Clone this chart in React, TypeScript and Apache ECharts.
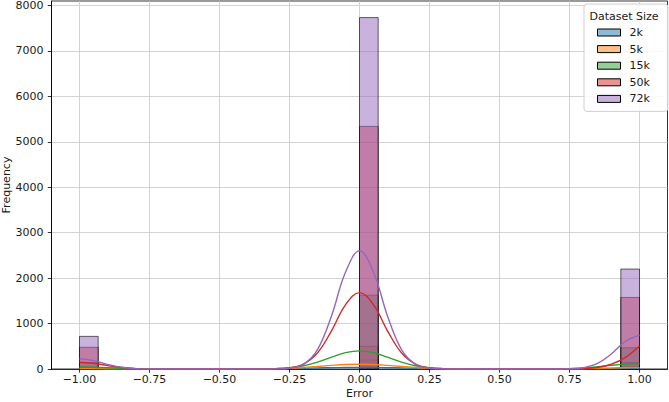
import React, { useEffect, useRef } from 'react';
import * as echarts from 'echarts';

const seriesNames = ['2k', '5k', '15k', '50k', '72k'];
const colors = ['#1f77b4', '#ff7f0e', '#2ca02c', '#d62728', '#9467bd'];

// histogram bins (start of bin) and bin width
const binStarts = [-1, 0, 0.9333];
const binWidth = 0.0667;

const counts2k = [18, 200, 58];
const counts5k = [45, 500, 145];
const counts15k = [140, 1625, 467];
const counts50k = [478, 5340, 1575];
const counts72k = [718, 7735, 2200];

// KDE curves
const kdeX = [-1, -0.95, -0.9, -0.85, -0.8, -0.75, -0.7, -0.65, -0.6, -0.55, -0.5, -0.45, -0.4, -0.35, -0.3, -0.25, -0.2, -0.15, -0.1, -0.05, 0, 0.05, 0.1, 0.15, 0.2, 0.25, 0.3, 0.35, 0.4, 0.45, 0.5, 0.55, 0.6, 0.65, 0.7, 0.75, 0.8, 0.85, 0.9, 0.95, 1];
const kde2k = [3, 3, 2.5, 2, 1.4, 0.9, 0.5, 0.3, 0.1, 0.1, 0.3, 0.7, 1.6, 3.3, 6, 10, 16, 23, 29, 33, 35, 33, 29, 23, 16, 10, 6, 3.3, 1.6, 0.9, 0.4, 0.3, 0.5, 0.9, 1.8, 3, 4.6, 6.5, 8.2, 9.5, 10];
const kde5k = [9, 8, 7, 5, 3, 2, 1, 0, 0, 0, 0, 0, 1, 3, 9, 18, 34, 56, 79, 98, 105, 98, 79, 56, 34, 18, 9, 3, 1, 0, 0, 0, 0, 1, 3, 5, 10, 17, 23, 29, 31];
const kde15k = [45, 40, 29, 17, 8, 3, 1, 0, 0, 0, 0, 0, 0, 2, 8, 27, 72, 152, 260, 359, 400, 359, 260, 152, 72, 27, 8, 2, 0, 0, 0, 0, 0, 1, 3, 9, 22, 48, 81, 108, 120];
const kde50k = [150, 126, 75, 32, 9, 2, 0, 0, 0, 0, 0, 0, 0, 0, 3, 22, 106, 354, 841, 1413, 1680, 1413, 841, 354, 106, 22, 3, 0, 0, 0, 0, 0, 0, 0, 0, 1, 7, 32, 107, 255, 505];
const kde72k = [225, 185, 103, 38, 9, 2, 0, 0, 0, 0, 0, 0, 0, 0, 2, 17, 105, 428, 1167, 2128, 2600, 2128, 1167, 428, 105, 17, 2, 0, 0, 0, 0, 0, 0, 0, 0, 5, 30, 123, 334, 610, 742];

const xTicks = [-1, -0.75, -0.5, -0.25, 0, 0.25, 0.5, 0.75, 1];
const yTicks = [0, 1000, 2000, 3000, 4000, 5000, 6000, 7000, 8000];

const allCounts = [counts2k, counts5k, counts15k, counts50k, counts72k];
const allKde = [kde2k, kde5k, kde15k, kde50k, kde72k];

const FONT = 'DejaVu Sans';
const FS = 11;

function hexToRgba(hex: string, a: number) {
  const r = parseInt(hex.slice(1, 3), 16);
  const g = parseInt(hex.slice(3, 5), 16);
  const b = parseInt(hex.slice(5, 7), 16);
  return `rgba(${r},${g},${b},${a})`;
}

export default function App() {
  const ref = useRef<HTMLDivElement>(null);
  useEffect(() => {
    if (!ref.current) return;
    const chart = echarts.init(ref.current, undefined, { renderer: 'svg' });

    const order = [0, 1, 2, 3, 4];
    const barSeries = order.map((i) => {
      const fill = hexToRgba(colors[i], 0.5);
      return {
        type: 'custom',
        name: seriesNames[i],
        z: 2,
        encode: { x: 0, y: 1 },
        itemStyle: { color: fill, borderColor: '#000', borderWidth: 1 },
        data: binStarts.map((b, k) => [b, allCounts[i][k]]),
        renderItem: (params: any, api: any) => {
          const x0 = api.value(0) as number;
          const c = api.value(1) as number;
          const a = api.coord([x0, c]);
          const bb = api.coord([x0 + binWidth, 0]);
          return {
            type: 'rect',
            shape: { x: a[0], y: a[1], width: bb[0] - a[0], height: bb[1] - a[1] },
            style: { fill, stroke: 'rgba(0,0,0,0.75)', lineWidth: 0.8 },
          };
        },
      };
    });

    const lineSeries = order.map((i) => ({
      type: 'line',
      name: seriesNames[i] + ' kde',
      z: 3,
      showSymbol: false,
      symbol: 'none',
      smooth: 0.4,
      lineStyle: { color: colors[i], width: 1.4 },
      itemStyle: { color: colors[i] },
      data: kdeX.map((x, k) => [x, allKde[i][k]]),
    }));

    chart.setOption({
      animation: false,
      textStyle: { fontFamily: FONT },
      grid: {
        left: 51.5,
        right: 1.5,
        top: 1,
        bottom: 33,
        containLabel: false,
        outerBoundsMode: 'none',
        show: true,
        borderColor: '#000',
        borderWidth: 0.8,
        backgroundColor: 'transparent',
      },
      legend: {
        orient: 'vertical',
        left: 584,
        top: 4,
        padding: [22, 18, 6, 13],
        itemWidth: 23,
        itemHeight: 7,
        itemGap: 3.6,
        icon: 'rect',
        selectedMode: false,
        backgroundColor: 'rgba(255,255,255,0.85)',
        borderColor: '#d0d0d0',
        borderWidth: 1,
        borderRadius: 3,
        textStyle: { fontFamily: FONT, fontSize: FS, lineHeight: 13, color: '#1a1a1a', padding: [0, 0, 0, 4] },
        data: seriesNames.map((n, i) => ({
          name: n,
          itemStyle: { color: hexToRgba(colors[i], 0.5), borderColor: '#000', borderWidth: 1 },
        })),
        z: 10,
      },
      graphic: [
        {
          type: 'text',
          x: 624,
          y: 16,
          z: 100,
          style: {
            text: 'Dataset Size',
            fontFamily: FONT,
            fontSize: FS,
            fill: '#1a1a1a',
            align: 'center',
            verticalAlign: 'middle',
          },
        },
      ],
      xAxis: {
        type: 'value',
        min: -1.1,
        max: 1.1,
        name: 'Error',
        nameLocation: 'middle',
        nameGap: 19,
        nameMoveOverlap: false,
        nameTextStyle: { fontFamily: FONT, fontSize: FS, color: '#1a1a1a' },
        axisLine: { show: true, onZero: false, lineStyle: { color: '#000', width: 0.8 } },
        axisTick: { show: true, length: 3.7, customValues: xTicks, lineStyle: { color: '#000', width: 0.8 } },
        axisLabel: {
          customValues: xTicks,
          margin: 5,
          fontFamily: FONT,
          fontSize: FS,
          color: '#1a1a1a',
          formatter: (v: number) => v.toFixed(2).replace('-', '\u2212'),
        },
        splitLine: { show: true, lineStyle: { color: '#c8c8c8', width: 0.8 } },
      },
      yAxis: {
        type: 'value',
        min: 0,
        max: 8100,
        interval: 1000,
        name: 'Frequency',
        nameLocation: 'middle',
        nameGap: 40,
        nameMoveOverlap: false,
        nameTextStyle: { fontFamily: FONT, fontSize: FS, color: '#1a1a1a' },
        axisLine: { show: true, onZero: false, lineStyle: { color: '#000', width: 0.8 } },
        axisTick: { show: true, length: 3.7, customValues: yTicks, lineStyle: { color: '#000', width: 0.8 } },
        axisLabel: {
          customValues: yTicks,
          margin: 8,
          fontFamily: FONT,
          fontSize: FS,
          color: '#1a1a1a',
          formatter: (v: number) => String(v),
        },
        splitLine: { show: true, lineStyle: { color: '#c8c8c8', width: 0.8 } },
      },
      series: [...barSeries, ...lineSeries],
    });

    return () => chart.dispose();
  }, []);

  return <div ref={ref} style={{ width: 669, height: 402, position: 'absolute', left: 0, top: 0 }} />;
}
